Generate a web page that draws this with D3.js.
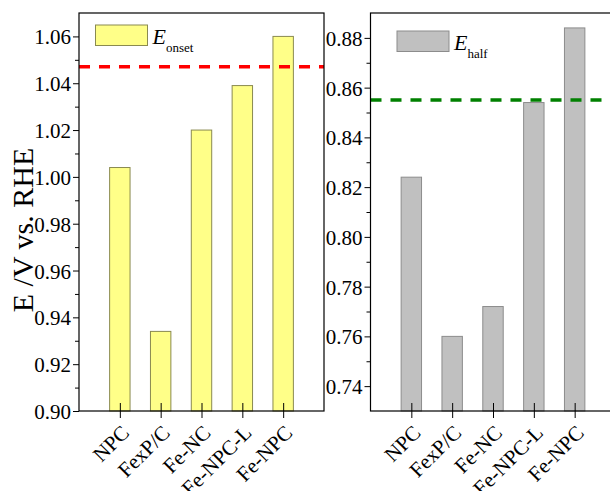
<!DOCTYPE html>
<meta charset="utf-8">
<head>
  <title>Eonset / Ehalf</title>
</head>
<style>
body { margin: 0; background: #fff; }
svg text { font-family: "Liberation Serif", "DejaVu Serif", serif !important; fill: #000; }
</style>
<body>
<svg width=610 height=491></svg>
<script src="https://cdnjs.cloudflare.com/ajax/libs/d3/7.8.5/d3.min.js"></script>
<script>
var categories = ["NPC", "FexP/C", "Fe-NC", "Fe-NPC-L", "Fe-NPC"];
var onsetValues = [1.004, 0.934, 1.020, 1.039, 1.060];
var halfValues = [0.824, 0.760, 0.772, 0.854, 0.884];
var onsetTicks = [0.90, 0.92, 0.94, 0.96, 0.98, 1.00, 1.02, 1.04, 1.06];
var halfTicks = [0.74, 0.76, 0.78, 0.80, 0.82, 0.84, 0.86, 0.88];
var onsetRef = 1.047;
var halfRef = 0.855;

var svg = d3.select('svg');

function panel(opt) {
  var g = svg.append('g');
  var x = d3.scaleLinear().domain([0, 6]).range([opt.left, opt.left + 245]);
  var y = d3.scaleLinear().domain(opt.domain).range([411, 13]);
  var bw = x(0.5) - x(0);

  g.selectAll('rect.bar')
    .data(opt.values)
    .enter()
    .append('rect')
    .attr('class', 'bar')
    .attr('x', function(d, i){ return x(i + 1) - bw / 2; })
    .attr('y', function(d){ return y(d); })
    .attr('width', bw)
    .attr('height', function(d){ return y(opt.domain[0]) - y(d); })
    .attr('fill', opt.fill)
    .attr('stroke', opt.stroke)
    .attr('stroke-width', 1);

  // reference line
  g.append('line')
    .attr('x1', x(0)).attr('x2', x(6))
    .attr('y1', y(opt.ref)).attr('y2', y(opt.ref))
    .attr('stroke', opt.refColor)
    .attr('stroke-width', 3.5)
    .attr('stroke-dasharray', '11,9');

  // frame
  g.append('rect')
    .attr('x', x(0)).attr('y', y(opt.domain[1]))
    .attr('width', x(6) - x(0)).attr('height', y(opt.domain[0]) - y(opt.domain[1]))
    .attr('fill', 'none').attr('stroke', '#000').attr('stroke-width', 1.2);

  // y axis
  var minor = [];
  opt.ticks.forEach(function(t){ minor.push(t + 0.01); });
  minor.push(opt.ticks[0] - 0.01);
  minor = minor.filter(function(t){ return t > opt.domain[0] && t < opt.domain[1]; });

  g.append('g')
    .attr('transform', 'translate(' + x(0) + ',0)')
    .call(d3.axisLeft(y).tickValues(minor).tickSize(4).tickFormat(''))
    .call(function(a){ a.select('.domain').remove(); });

  var ya = g.append('g')
    .attr('transform', 'translate(' + x(0) + ',0)')
    .call(d3.axisLeft(y).tickValues(opt.ticks).tickSize(6).tickPadding(2).tickFormat(d3.format('.2f')));
  ya.select('.domain').remove();
  ya.attr('font-family', null);
  ya.selectAll('text').style('font-size', '21px').attr('dy', '0.36em');

  // x axis
  var xa = g.append('g')
    .attr('transform', 'translate(0,411)')
    .call(d3.axisBottom(x).tickValues([1, 2, 3, 4, 5]).tickSizeInner(7).tickSizeOuter(0)
      .tickFormat(function(d){ return categories[d - 1]; }));
  xa.select('.domain').remove();
  xa.attr('font-family', null);
  xa.selectAll('.tick line').attr('y1', -8).attr('stroke', '#000');
  xa.selectAll('text')
    .style('font-size', '21px')
    .attr('text-anchor', 'end')
    .attr('dy', null)
    .attr('y', null)
    .attr('transform', 'translate(10,23) rotate(-45)');

  // legend
  g.append('rect')
    .attr('x', opt.legend[0]).attr('y', opt.legend[1])
    .attr('width', 52).attr('height', 20.5)
    .attr('fill', opt.fill).attr('stroke', opt.stroke);
  var lt = g.append('text')
    .attr('x', opt.legend[0] + 57).attr('y', opt.legend[1] + 19)
    .style('font-size', '22px');
  lt.append('tspan').style('font-style', 'italic').text('E');
  lt.append('tspan').attr('dy', 8).style('font-size', '13px').text(opt.sub);
}

panel({ left: 79, domain: [0.90, 1.07], values: onsetValues, ticks: onsetTicks,
        fill: '#ffff88', stroke: '#8a8a50', ref: onsetRef, refColor: '#ff0000',
        legend: [95.5, 25], sub: 'onset' });
panel({ left: 370.5, domain: [0.73, 0.89], values: halfValues, ticks: halfTicks,
        fill: '#c0c0c0', stroke: '#8c8c8c', ref: halfRef, refColor: '#008000',
        legend: [397, 31], sub: 'half' });

svg.append('text')
  .attr('transform', 'translate(33,230) rotate(-90)')
  .attr('text-anchor', 'middle')
  .style('font-size', '30px')
  .text('E /V vs. RHE');
</script>
</body>
</html>
